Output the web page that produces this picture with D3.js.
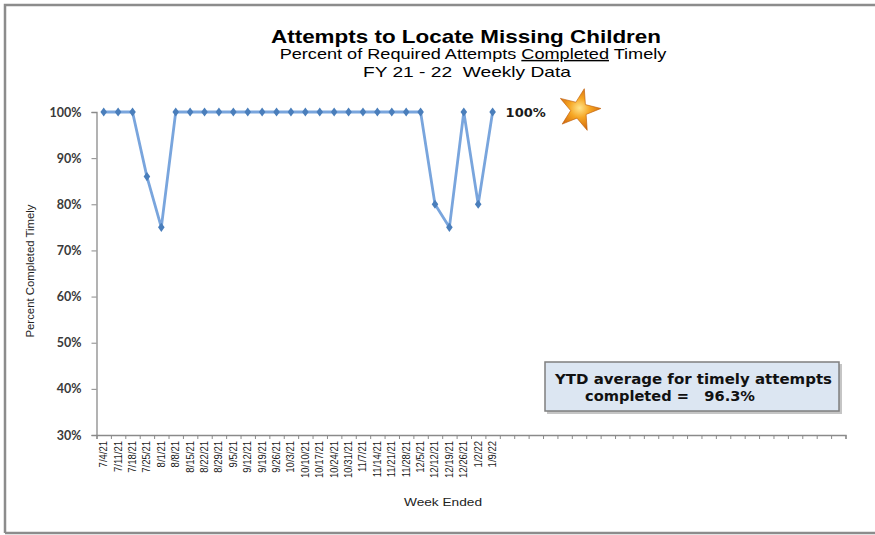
<!DOCTYPE html>
<html>
<head>
<meta charset="utf-8">
<script src="https://cdn.jsdelivr.net/npm/d3@7"></script>
<style>
  body { margin: 0; background: #fff; }
  svg { display: block; }
</style>
</head>
<body>
<div id="chart"></div>
<script>
"use strict";

// weekly data (only first 28 weeks reported so far)
var weeks = ["7/4/21", "7/11/21", "7/18/21", "7/25/21", "8/1/21", "8/8/21", "8/15/21",
  "8/22/21", "8/29/21", "9/5/21", "9/12/21", "9/19/21", "9/26/21", "10/3/21",
  "10/10/21", "10/17/21", "10/24/21", "10/31/21", "11/7/21", "11/14/21", "11/21/21",
  "11/28/21", "12/5/21", "12/12/21", "12/19/21", "12/26/21", "1/2/22", "1/9/22"];
var pctTimely = [1.00, 1.00, 1.00, 0.86, 0.75, 1.00, 1.00,
  1.00, 1.00, 1.00, 1.00, 1.00, 1.00, 1.00,
  1.00, 1.00, 1.00, 1.00, 1.00, 1.00, 1.00,
  1.00, 1.00, 0.80, 0.75, 1.00, 0.80, 1.00];
var yTicks = [0.3, 0.4, 0.5, 0.6, 0.7, 0.8, 0.9, 1.0];
var weekSlots = 52;     // fiscal year axis has room for 52 weeks
var ytdAverage = "96.3%";
var lastLabel = "100%";

var W = 875, H = 535;
var arial = "Arial, 'Liberation Sans', sans-serif";
var svg = d3.select("#chart").append("svg")
  .attr("width", W)
  .attr("height", H);

// outer frame (left, top, bottom edges)
svg.append("path")
  .attr("d", "M5,533 L5,5 L875,5 M5,533 L875,533")
  .attr("fill", "none")
  .attr("stroke", "#8c8c8c")
  .attr("stroke-width", 2.5);

var x = d3.scaleLinear().domain([0, weekSlots]).range([96.5, 845.5]);
var y = d3.scaleLinear().domain([0.3, 1.0]).range([435, 112]);

// titles (the original is a bit stretched sideways, so fit widths)
svg.append("text")
  .attr("x", 271).attr("y", 43)
  .attr("textLength", 390)
  .attr("lengthAdjust", "spacingAndGlyphs")
  .style("font-family", arial)
  .style("font-weight", "bold")
  .style("font-size", "18.5px")
  .text("Attempts to Locate Missing Children");

var sub = svg.append("g")
  .attr("transform", "translate(473,59) scale(1.25,1)")
  .append("text")
  .attr("text-anchor", "middle")
  .style("font-family", arial)
  .style("font-size", "14.5px");
sub.append("tspan").text("Percent of Required Attempts ");
sub.append("tspan").attr("text-decoration", "underline").text("Completed");
sub.append("tspan").text(" Timely");

svg.append("text")
  .attr("x", 363).attr("y", 77)
  .attr("textLength", 208)
  .attr("lengthAdjust", "spacingAndGlyphs")
  .style("font-family", arial)
  .style("font-size", "14.5px")
  .style("white-space", "pre")
  .text("FY 21 - 22  Weekly Data");

// y axis
var yAxis = d3.axisLeft(y)
  .tickValues(yTicks)
  .tickFormat(d3.format(".0%"))
  .tickSize(5)
  .tickPadding(10);
var gy = svg.append("g")
  .attr("transform", "translate(" + x(0) + ",0)")
  .call(yAxis);
gy.select(".domain").attr("stroke", "#8a8a8a").attr("stroke-width", 1.3);
gy.selectAll(".tick line").attr("stroke", "#8a8a8a");
gy.selectAll(".tick text")
  .style("font-family", "Lato, 'Open Sans', sans-serif")
  .style("font-weight", "bold")
  .style("font-size", "12.5px")
  .attr("fill", "#3a3a3a");

// x axis (52 slots, ticks at slot boundaries)
var xAxis = d3.axisBottom(x)
  .tickValues(d3.range(weekSlots + 1))
  .tickFormat("")
  .tickSize(4);
var gx = svg.append("g")
  .attr("transform", "translate(0," + y(0.3) + ")")
  .call(xAxis);
gx.select(".domain").attr("stroke", "#8a8a8a").attr("stroke-width", 1.3);
gx.selectAll(".tick line").attr("stroke", "#8a8a8a");

// week labels, rotated
svg.append("g").selectAll("text").data(weeks)
  .join("text")
    .attr("transform", (d, i) => "translate(" + (x(i + 0.5) + 3.5) + "," + (y(0.3) + 6) + ") rotate(-90) scale(1,1.2)")
    .attr("text-anchor", "end")
    .style("font-family", arial)
    .style("font-size", "9.5px")
    .attr("fill", "#1a1a1a")
    .text(d => d);

// axis titles
svg.append("text")
  .attr("transform", "translate(34,271) rotate(-90)")
  .attr("text-anchor", "middle")
  .attr("textLength", 133)
  .attr("lengthAdjust", "spacingAndGlyphs")
  .style("font-family", arial)
  .style("font-size", "10.5px")
  .attr("fill", "#222")
  .text("Percent Completed Timely");

svg.append("text")
  .attr("x", 404).attr("y", 506)
  .attr("textLength", 78)
  .attr("lengthAdjust", "spacingAndGlyphs")
  .style("font-family", arial)
  .style("font-size", "11.5px")
  .attr("fill", "#222")
  .text("Week Ended");

// the line
var line = d3.line()
  .x((d, i) => x(i + 0.5))
  .y(d => y(d));

svg.append("path")
  .datum(pctTimely)
  .attr("d", line)
  .attr("fill", "none")
  .attr("stroke", "#79a5dd")
  .attr("stroke-width", 2.8)
  .attr("stroke-linejoin", "round");

svg.append("g").selectAll("path").data(pctTimely)
  .join("path")
    .attr("transform", (d, i) => "translate(" + x(i + 0.5) + "," + y(d) + ") scale(1.25,1)")
    .attr("d", d3.symbol().type(d3.symbolDiamond).size(24))
    .attr("fill", "#4a7ebb");

// label at last point
var lastIdx = pctTimely.length - 1;
svg.append("text")
  .attr("x", x(lastIdx + 0.5) + 13)
  .attr("y", y(pctTimely[lastIdx]) + 5)
  .style("font-family", "'DejaVu Sans', sans-serif")
  .style("font-weight", "bold")
  .style("font-size", "13px")
  .attr("fill", "#1a1a1a")
  .text(lastLabel);

// star
var defs = svg.append("defs");
var grad = defs.append("radialGradient")
  .attr("id", "starGrad")
  .attr("cx", "50%").attr("cy", "50%").attr("r", "55%");
grad.append("stop").attr("offset", "0%").attr("stop-color", "#ffe48a");
grad.append("stop").attr("offset", "45%").attr("stop-color", "#f6a623");
grad.append("stop").attr("offset", "100%").attr("stop-color", "#d2690c");

svg.append("path")
  .attr("transform", "translate(579,110) rotate(14)")
  .attr("d", d3.symbol().type(d3.symbolStar).size(540))
  .attr("fill", "url(#starGrad)")
  .attr("stroke", "#c0600a")
  .attr("stroke-width", 0.6);

// YTD average box
svg.append("rect")
  .attr("x", 547).attr("y", 364)
  .attr("width", 295).attr("height", 50)
  .attr("fill", "#8c8c8c")
  .attr("opacity", 0.5);
svg.append("rect")
  .attr("x", 545).attr("y", 362)
  .attr("width", 294).attr("height", 49)
  .attr("fill", "#dce6f2")
  .attr("stroke", "#7f7f7f")
  .attr("stroke-width", 1.5);

svg.append("text")
  .attr("x", 555).attr("y", 384)
  .attr("textLength", 277)
  .attr("lengthAdjust", "spacingAndGlyphs")
  .style("font-family", "'DejaVu Sans', sans-serif")
  .style("font-weight", "bold")
  .style("font-size", "14.5px")
  .attr("fill", "#111")
  .text("YTD average for timely attempts");

svg.append("text")
  .attr("x", 585).attr("y", 401)
  .attr("textLength", 170)
  .attr("lengthAdjust", "spacingAndGlyphs")
  .style("font-family", "'DejaVu Sans', sans-serif")
  .style("font-weight", "bold")
  .style("font-size", "14.5px")
  .style("white-space", "pre")
  .attr("fill", "#111")
  .text("completed =   " + ytdAverage);
</script>
</body>
</html>
